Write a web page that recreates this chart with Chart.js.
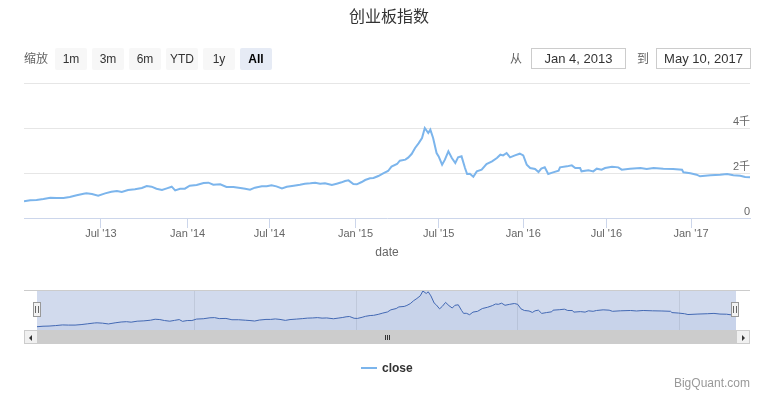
<!DOCTYPE html>
<html>
<head>
<meta charset="utf-8">
<script src="https://cdn.jsdelivr.net/npm/chart.js@4.4.0/dist/chart.umd.min.js"></script>
<style>
  html, body { margin: 0; padding: 0; background: #fff; }
  body { width: 778px; height: 397px; position: relative; overflow: hidden;
    font-family: "Liberation Sans", "Noto Sans CJK SC", Arial, sans-serif; }
  .abs { position: absolute; }
  #main { left: 0; top: 0; }
  #title { left: 0; top: 4px; width: 778px; text-align: center; font-size: 16px; line-height: 22px; color: #333;
    font-family: "Noto Sans CJK SC", sans-serif; }
  .lbl { top: 47px; font-size: 12px; line-height: 22px; color: #666; font-family: "Noto Sans CJK SC", sans-serif; }
  .btn { top: 48px; width: 32px; height: 22px; line-height: 22px; text-align: center; font-size: 12px;
    color: #333; background: #f7f7f7; border-radius: 2px; }
  .btn.on { background: #e6ebf5; color: #000; font-weight: bold; }
  .date { top: 48px; width: 93px; height: 19px; line-height: 19px; border: 1px solid #ccc; text-align: center;
    font-size: 13px; color: #333; }
  #outline { left: 24px; top: 290px; width: 726px; height: 1px; background: #ccc; }
  #mask { left: 37px; top: 291px; width: 699px; height: 39px; background: #d1daed; }
  #nav { left: 37px; top: 291px; }
  .handle { top: 302px; width: 6px; height: 13px; background: #f2f2f2; border: 1px solid #999; }
  .handle::before, .handle::after { content: ''; position: absolute; top: 3px; width: 1px; height: 7px; background: #666; }
  .handle::before { left: 1px; }
  .handle::after { left: 4px; }
  #track { left: 24px; top: 330px; width: 726px; height: 13px; background: #f2f2f2; border-bottom: 1px solid #ddd; }
  #bar { left: 37px; top: 330px; width: 699px; height: 14px; background: #ccc; }
  .grip { top: 335px; width: 1px; height: 5px; background: #333; }
  .sbtn { top: 330px; width: 12px; height: 12px; background: #f0f0f0; border: 1px solid #ccc; }
  .arrow { top: 4px; width: 0; height: 0; border-top: 3px solid transparent; border-bottom: 3px solid transparent; }
  #legLine { left: 361px; top: 367px; width: 16px; height: 2px; background: #7cb5ec; }
  #legText { left: 382px; top: 360px; font-size: 12px; line-height: 16px; font-weight: bold; color: #333; }
  #credits { left: 600px; width: 150px; top: 375px; text-align: right; font-size: 12px; line-height: 16px; color: #999; }
</style>
</head>
<body>
<canvas id="main" class="abs" width="778" height="397"></canvas>
<div id="title" class="abs">创业板指数</div>
<div class="abs lbl" style="left:24px">缩放</div>
<div class="abs btn" style="left:55px">1m</div>
<div class="abs btn" style="left:92px">3m</div>
<div class="abs btn" style="left:129px">6m</div>
<div class="abs btn" style="left:166px">YTD</div>
<div class="abs btn" style="left:203px">1y</div>
<div class="abs btn on" style="left:240px">All</div>
<div class="abs lbl" style="left:510px">从</div>
<div class="abs date" style="left:531px">Jan 4, 2013</div>
<div class="abs lbl" style="left:637px">到</div>
<div class="abs date" style="left:656px">May 10, 2017</div>

<div id="outline" class="abs"></div>
<div id="mask" class="abs"></div>
<canvas id="nav" class="abs" width="699" height="39"></canvas>
<div id="track" class="abs"></div>
<div id="bar" class="abs"></div>
<div class="abs grip" style="left:385px"></div>
<div class="abs grip" style="left:387px"></div>
<div class="abs grip" style="left:389px"></div>
<div class="abs sbtn" style="left:24px"><div class="abs arrow" style="left:4px;border-right:3px solid #333"></div></div>
<div class="abs sbtn" style="left:736px"><div class="abs arrow" style="left:5px;border-left:3px solid #333"></div></div>
<div class="abs handle" style="left:33px"></div>
<div class="abs handle" style="left:731px"></div>

<div id="legLine" class="abs"></div>
<div id="legText" class="abs">close</div>
<div id="credits" class="abs">BigQuant.com</div>

<script>
// trading day number counted from 2013-01-04 (ordinal axis, no weekends/holidays)
const tradingDay = [
  0, 9, 18, 28, 38, 47, 57, 66, 76, 86, 90, 98, 107, 117, 126, 134, 141, 150, 160, 170,
  177, 184, 191, 199, 206, 213, 218, 225, 232, 239, 249, 259, 266, 273, 283, 292, 302, 312, 319, 326,
  333, 343, 350, 357, 364, 372, 379, 389, 398, 405, 413, 420, 427, 434, 444, 451, 458, 463, 468, 475,
  480, 487, 492, 499, 504, 511, 518, 525, 530, 538, 542, 550, 554, 559, 564, 569, 574, 578, 583, 586,
  590, 595, 598, 603, 607, 612, 617, 622, 626, 631, 636, 639, 643, 648, 653, 660, 667, 675, 682, 687,
  691, 696, 701, 708, 715, 720, 725, 730, 737, 742, 746, 751, 756, 763, 771, 773, 783, 790, 795, 802,
  804, 814, 821, 826, 833, 838, 848, 857, 862, 874, 889, 898, 908, 922, 936, 949, 951, 961, 970, 975,
  990, 1004, 1014, 1023, 1033, 1040, 1047
]
const closeValue = [
  740, 785, 800, 844, 903, 888, 888, 933, 1007, 1081, 1096, 1066, 992, 1096, 1170, 1200, 1155, 1244, 1274, 1333,
  1422, 1392, 1303, 1244, 1318, 1392, 1229, 1303, 1303, 1437, 1466, 1555, 1570, 1481, 1496, 1377, 1377, 1333, 1303, 1259,
  1348, 1407, 1407, 1451, 1407, 1318, 1392, 1437, 1481, 1525, 1540, 1570, 1525, 1540, 1466, 1525, 1585, 1644, 1674, 1511,
  1496, 1600, 1688, 1762, 1777, 1866, 1985, 2088, 2281, 2399, 2547, 2592, 2681, 2843, 3110, 3317, 3554, 3999, 3776, 3925,
  3554, 2888, 2740, 2369, 2592, 2962, 2666, 2444, 2695, 2740, 2221, 1955, 1970, 1836, 2073, 2147, 2399, 2518, 2666, 2814,
  2784, 2888, 2695, 2784, 2858, 2784, 2369, 2221, 2177, 2044, 2192, 2251, 1955, 2029, 2103, 2251, 2295, 2340, 2221, 2221,
  2073, 2118, 2073, 2192, 2147, 2221, 2281, 2251, 2147, 2192, 2221, 2177, 2221, 2192, 2177, 2147, 2029, 1985, 1925, 1851,
  1896, 1925, 1955, 1896, 1881, 1822, 1807
]
const lastDay = 1047

const tickDay = [111, 236, 354, 478, 598, 720, 840, 962]
const tickLabel = ["Jul '13", "Jan '14", "Jul '14", "Jan '15", "Jul '15", "Jan '16", "Jul '16", "Jan '17"]

const navTickDay = [236, 478, 720, 962]
const navTickLabel = ['2014', '2015', '2016', '2017']

Chart.defaults.font.family = '"Liberation Sans", "Noto Sans CJK SC", Arial, sans-serif'

const points = tradingDay.map((d, i) => ({ x: d, y: closeValue[i] }))

new Chart(document.getElementById('main'), {
  type: 'line',
  data: {
    datasets: [{
      label: 'close',
      data: points,
      borderColor: '#7cb5ec',
      borderWidth: 2,
      pointRadius: 0,
      tension: 0,
      fill: false,
    }],
  },
  options: {
    responsive: false,
    animation: false,
    layout: { padding: { left: 24, right: 28, top: 83, bottom: 135 } },
    plugins: { legend: { display: false }, tooltip: { enabled: false } },
    scales: {
      x: {
        type: 'linear',
        min: 0,
        max: lastDay,
        afterBuildTicks: (scale) => { scale.ticks = tickDay.map((v) => ({ value: v })) },
        afterFit: (scale) => { scale.height = 44 },
        ticks: {
          autoSkip: false,
          maxRotation: 0,
          padding: -1,
          color: '#666',
          font: { size: 11 },
          callback: (value) => tickLabel[tickDay.indexOf(value)],
        },
        grid: { drawOnChartArea: false, tickLength: 10, color: '#ccd6eb' },
        border: { color: '#ccd6eb' },
        title: { display: true, text: 'date', color: '#666', font: { size: 12 }, padding: { top: 0, bottom: 2 } },
      },
      y: {
        position: 'right',
        min: 0,
        max: 6000,
        afterFit: (scale) => { scale.width = 0 },
        ticks: {
          stepSize: 2000,
          mirror: true,
          padding: 0,
          labelOffset: -6,
          color: '#666',
          font: { size: 11 },
          callback: (v) => (v === 6000 ? '' : v === 0 ? '0' : v / 1000 + '千'),
        },
        grid: {
          drawTicks: false,
          color: (ctx) => (ctx.tick && ctx.tick.value === 0 ? 'rgba(0,0,0,0)' : '#e6e6e6'),
        },
        border: { display: false },
      },
    },
  },
})

// navigator below the main plot
new Chart(document.getElementById('nav'), {
  type: 'line',
  data: {
    datasets: [{
      data: points,
      borderColor: '#4268b3',
      backgroundColor: 'rgba(66,104,179,0.06)',
      borderWidth: 1,
      pointRadius: 0,
      tension: 0,
      fill: 'start',
      clip: false,
    }],
  },
  options: {
    responsive: false,
    animation: false,
    layout: { padding: 0 },
    plugins: { legend: { display: false }, tooltip: { enabled: false } },
    scales: {
      x: {
        type: 'linear',
        min: 0,
        max: lastDay,
        afterBuildTicks: (scale) => { scale.ticks = navTickDay.map((v) => ({ value: v })) },
        afterFit: (scale) => { scale.height = 0 },
        ticks: {
          autoSkip: false,
          maxRotation: 0,
          align: 'start',
          labelOffset: 4,
          padding: -15,
          color: '#8a93a6',
          font: { size: 12 },
          callback: (value) => navTickLabel[navTickDay.indexOf(value)],
        },
        grid: { drawTicks: false, color: '#c0c9db' },
        border: { display: false },
      },
      y: { display: false, min: 440, max: 4000 },
    },
  },
})
</script>
</body>
</html>
